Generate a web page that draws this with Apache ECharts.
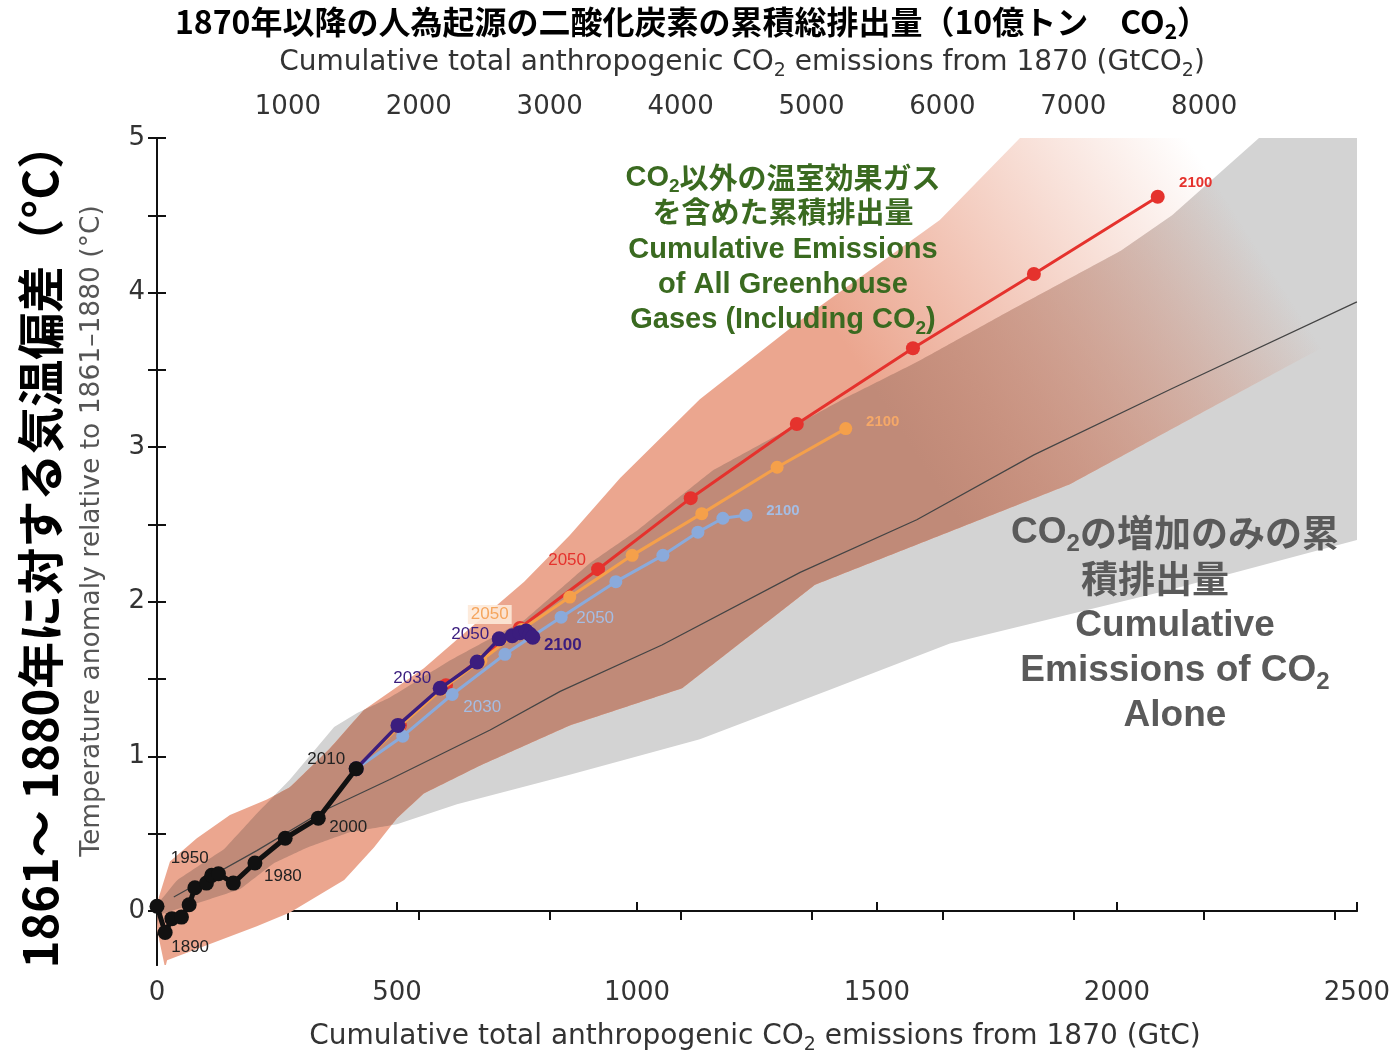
<!DOCTYPE html>
<html>
<head>
<meta charset="utf-8">
<title>累積CO2排出量と気温上昇</title>
<script src="https://cdn.jsdelivr.net/npm/echarts@6/dist/echarts.min.js"></script>
<style>
    html, body { margin: 0; padding: 0; background: #fff; }
    #chart { width: 1393px; height: 1056px; }
</style>
</head>
<body>
<div id="chart"></div>
<script>
; (function () {
    // 観測（1880–2010、10年平均）
    const histYears = [1880, 1890, 1900, 1910, 1920, 1930, 1940, 1950, 1960, 1970, 1980, 1990, 2000, 2010];
    const histX = [0, 17, 31, 51, 67, 79, 103, 114, 128, 159, 204, 267, 336, 415];
    const histY = [0.03, -0.14, -0.05, -0.04, 0.04, 0.15, 0.18, 0.23, 0.24, 0.18, 0.31, 0.47, 0.60, 0.92];

    // RCP シナリオ（2010–2100）
    const rcpYears = [2010, 2020, 2030, 2040, 2050, 2060, 2070, 2080, 2090, 2100];
    const rcp85X = [415, 506, 602, 756, 919, 1112, 1333, 1575, 1827, 2085];
    const rcp85Y = [0.92, 1.20, 1.46, 1.83, 2.21, 2.67, 3.15, 3.64, 4.12, 4.62];
    const rcp60X = [415, 504, 592, 675, 760, 860, 990, 1135, 1292, 1435];
    const rcp60Y = [0.92, 1.19, 1.43, 1.62, 1.82, 2.03, 2.30, 2.57, 2.87, 3.12];
    const rcp45X = [415, 512, 615, 725, 842, 956, 1054, 1127, 1179, 1227];
    const rcp45Y = [0.92, 1.13, 1.40, 1.66, 1.90, 2.13, 2.30, 2.45, 2.54, 2.56];
    const rcp26X = [415, 502, 590, 667, 713, 740, 756, 769, 777, 783];
    const rcp26Y = [0.92, 1.20, 1.44, 1.61, 1.76, 1.78, 1.80, 1.81, 1.79, 1.77];

    // CO2 のみ（1%/年）中央値
    const co2OnlyX = [35, 208, 348, 485, 694, 840, 1052, 1340, 1583, 1827, 2115, 2500];
    const co2OnlyY = [0.09, 0.39, 0.65, 0.85, 1.17, 1.42, 1.72, 2.19, 2.53, 2.95, 3.38, 3.94];

    // CO2 のみの幅（灰色）
    const grayUpperX = [0, 42, 140, 208, 277, 369, 417, 485, 610, 765, 902, 1000, 1158, 1435, 1583, 1775, 2008, 2115, 2296, 2444, 2600];
    const grayUpperY = [0.04, 0.20, 0.40, 0.63, 0.85, 1.19, 1.28, 1.38, 1.62, 1.88, 2.25, 2.46, 2.85, 3.32, 3.55, 3.88, 4.27, 4.50, 5.00, 5.50, 5.90];
    const grayLowerX = [0, 104, 173, 244, 313, 402, 500, 625, 860, 1131, 1402, 1652, 2115, 2500, 2600];
    const grayLowerY = [-0.03, 0.07, 0.14, 0.31, 0.41, 0.51, 0.56, 0.69, 0.88, 1.11, 1.43, 1.73, 2.08, 2.40, 2.47];

    // 全温室効果ガス（RCP）の幅
    const rcpUpperX = [17, 0, 2, 27, 83, 152, 229, 277, 360, 431, 556, 660, 765, 860, 965, 1131, 1340, 1631, 1798, 1965, 2277, 2590];
    const rcpUpperY = [-0.37, -0.12, 0.07, 0.32, 0.47, 0.62, 0.72, 0.80, 1.05, 1.30, 1.57, 1.85, 2.13, 2.43, 2.80, 3.31, 3.82, 4.47, 5.00, 5.50, 6.20, 6.20];
    const rcpLowerX = [2590, 2500, 2371, 1902, 1371, 1094, 860, 673, 556, 500, 452, 390, 277, 208, 21];
    const rcpLowerY = [3.95, 3.76, 3.55, 2.76, 2.11, 1.44, 1.20, 0.94, 0.76, 0.60, 0.41, 0.20, -0.01, -0.10, -0.32];

    // 軸目盛
    const gtcTicks = [0, 500, 1000, 1500, 2000, 2500];
    const gtco2Ticks = [1000, 2000, 3000, 4000, 5000, 6000, 7000, 8000, 9000];
    const gtco2Labels = [1000, 2000, 3000, 4000, 5000, 6000, 7000, 8000];
    const tempTicks = [0, 0.5, 1, 1.5, 2, 2.5, 3, 3.5, 4, 4.5, 5];
    const tempLabels = [0, 1, 2, 3, 4, 5];

    const FONT_JP = '"Noto Sans CJK JP", "Noto Sans", sans-serif';
    const FONT_EN = '"Liberation Sans", Arial, sans-serif';
    const FONT_AX = '"DejaVu Sans", sans-serif';
    const SALMON = [235, 166, 143];
    const DARK = [192, 138, 120];
    const rgba = (c, a) => 'rgba(' + c.join(',') + ',' + a + ')';

    const chart = echarts.init(document.getElementById('chart'));

    function pairs(xs, ys) {
        return xs.map((x, i) => [x, ys[i]]);
    }

    // 指定した年だけにラベルを付ける
    function withLabels(xs, ys, years, labelMap) {
        return pairs(xs, ys).map((d, i) => {
            const cfg = labelMap[years[i]];
            if (!cfg) return d;
            return {
                value: d,
                label: Object.assign({ show: true, position: 'inside', formatter: String(years[i]) }, cfg)
            };
        });
    }

    function edgeAt(xs, ys, x) {
        if (x <= xs[0]) return ys[0];
        for (let i = 1; i < xs.length; i++) {
            if (x <= xs[i]) {
                const t = (x - xs[i - 1]) / (xs[i] - xs[i - 1]);
                return ys[i - 1] + t * (ys[i] - ys[i - 1]);
            }
        }
        return ys[ys.length - 1];
    }

    // 灰色と RCP 幅の重なり部分（濃い茶色に見える部分）
    function overlapOutline() {
        const sux = rcpUpperX.slice(1), suy = rcpUpperY.slice(1);
        const slx = rcpLowerX.slice().reverse(), sly = rcpLowerY.slice().reverse();
        const up = [], lo = [];
        for (let x = 0; x <= 2590; x += 5) {
            const u = Math.min(edgeAt(sux, suy, x), edgeAt(grayUpperX, grayUpperY, x));
            const l = Math.max(edgeAt(slx, sly, x), edgeAt(grayLowerX, grayLowerY, x));
            if (u > l) {
                up.push([x, u]);
                lo.push([x, l]);
            }
        }
        return up.concat(lo.reverse());
    }

    function fade(api, color) {
        const p0 = api.coord([0, 0]), p1 = api.coord([2500, 5]);
        return new echarts.graphic.LinearGradient(p0[0], p0[1], p1[0], p1[1], [
            { offset: 0, color: rgba(color, 1) },
            { offset: 0.62, color: rgba(color, 1) },
            { offset: 0.9, color: rgba(color, 0) }
        ], true);
    }

    function polygon(outlineFn, styleFn) {
        return function (params, api) {
            const pts = outlineFn().map(p => api.coord(p));
            return { type: 'polygon', shape: { points: pts }, style: styleFn(api) };
        };
    }

    function bandSeries(name, outlineFn, styleFn, z) {
        return {
            name: name,
            type: 'custom', coordinateSystem: 'cartesian2d', clip: true, silent: true, z: z,
            data: [[0, 0]],
            renderItem: polygon(outlineFn, styleFn)
        };
    }

    function scenario(name, xs, ys, color, labelColor, size, width, labelMap, z) {
        return {
            name: name,
            type: 'line',
            data: withLabels(xs, ys, rcpYears, labelMap),
            symbol: 'circle',
            symbolSize: size,
            itemStyle: { color: color },
            lineStyle: { color: color, width: width },
            label: { show: false, color: labelColor, fontSize: 17, fontFamily: FONT_EN },
            z: z,
            emphasis: { disabled: true }
        };
    }

    const axisLine = { show: true, lineStyle: { color: '#111', width: 2 } };
    const tickStyle = { color: '#111', width: 2 };
    const tickLabel = { color: '#333', fontSize: 26, fontFamily: FONT_AX, formatter: v => String(v) };

    const sub = (size, color, weight, family) => ({
        fontSize: size, fill: color, fontWeight: weight, fontFamily: family,
        lineHeight: size, verticalAlign: 'bottom'
    });
    const main = (size, color, weight, family) => ({
        fontSize: size, fill: color, fontWeight: weight, fontFamily: family,
        lineHeight: Math.round(size * 1.25), verticalAlign: 'middle'
    });

    function textEl(x, y, text, rich, rotation) {
        return {
            type: 'text', x: x, y: y, z: 100, rotation: rotation || 0, silent: true,
            style: { text: text, align: 'center', verticalAlign: 'middle', rich: rich }
        };
    }

    const axisRich = { n: main(28, '#333', 'normal', FONT_AX), s: sub(19, '#333', 'normal', FONT_AX) };
    const green = '#3A6A20';
    const greenRich = { n: main(29, green, 'bold', FONT_JP), e: main(29, green, 'bold', FONT_EN), s: sub(19, green, 'bold', FONT_EN) };
    const grey = '#5a5a5a';
    const greyRich = { n: main(37, grey, 'bold', FONT_JP), e: main(37, grey, 'bold', FONT_EN), s: sub(24, grey, 'bold', FONT_EN) };

    const option = {
        backgroundColor: '#fff',
        animation: false,
        grid: { left: 157, right: 36, top: 138, bottom: 91 },
        xAxis: [
            {
                type: 'value', position: 'bottom', min: 0, max: 2500,
                axisLine: axisLine,
                axisTick: { inside: true, length: 9, lineStyle: tickStyle, customValues: gtcTicks },
                axisLabel: Object.assign({ margin: 15, customValues: gtcTicks }, tickLabel),
                splitLine: { show: false }
            },
            {
                type: 'value', position: 'top', min: 0, max: 2500 * 44 / 12,
                axisLine: axisLine,
                axisTick: { inside: true, length: 9, lineStyle: tickStyle, customValues: gtco2Ticks },
                axisLabel: Object.assign({ margin: 18, customValues: gtco2Labels }, tickLabel),
                splitLine: { show: false }
            }
        ],
        yAxis: [
            {
                type: 'value', position: 'left', min: -0.35, max: 5,
                axisLine: axisLine,
                axisTick: { inside: true, length: 9, lineStyle: tickStyle, customValues: tempTicks },
                axisLabel: Object.assign({ margin: 12, customValues: tempLabels }, tickLabel),
                splitLine: { show: false }
            },
            {
                type: 'value', position: 'right', min: -0.35, max: 5,
                axisLine: axisLine,
                axisTick: { inside: true, length: 9, lineStyle: tickStyle, customValues: tempTicks },
                axisLabel: { show: false },
                splitLine: { show: false }
            }
        ],
        series: [
            bandSeries('CO2 only range',
                () => pairs(grayUpperX, grayUpperY).concat(pairs(grayLowerX, grayLowerY).reverse()),
                () => ({ fill: '#d3d3d3' }), 1),
            bandSeries('RCP range',
                () => pairs(rcpUpperX, rcpUpperY).concat(pairs(rcpLowerX, rcpLowerY)),
                api => ({ fill: fade(api, SALMON) }), 2),
            bandSeries('Overlap', overlapOutline,
                api => ({ fill: fade(api, DARK) }), 3),
            {
                name: 'CO2 only',
                type: 'line', data: pairs(co2OnlyX, co2OnlyY), symbol: 'none', z: 4,
                lineStyle: { color: '#444', width: 1.2 }, emphasis: { disabled: true }
            },
            scenario('RCP8.5', rcp85X, rcp85Y, '#e5322d', '#e5322d', 14, 3, {
                2050: { offset: [-31, -9] },
                2100: { offset: [38, -14], fontSize: 15, fontWeight: 'bold' }
            }, 5),
            scenario('RCP6.0', rcp60X, rcp60Y, '#f5a04a', '#f5a868', 13, 3, {
                2050: { offset: [-32, -15], backgroundColor: 'rgba(253,233,216,0.9)', padding: [1, 3], color: '#f5a55e' },
                2100: { offset: [37, -7], fontSize: 15, fontWeight: 'bold' }
            }, 6),
            scenario('RCP4.5', rcp45X, rcp45Y, '#8aaadb', '#a4bde4', 13, 3, {
                2030: { offset: [30, 13] },
                2050: { offset: [34, 1] },
                2100: { offset: [37, -4], fontSize: 15, fontWeight: 'bold' }
            }, 7),
            scenario('RCP2.6', rcp26X, rcp26Y, '#3b1d7e', '#3b1d7e', 15, 3.5, {
                2030: { offset: [-28, -10] },
                2050: { offset: [-29, -5] },
                2100: { offset: [30, 8], fontWeight: 'bold' }
            }, 8),
            {
                name: 'Historical',
                type: 'line',
                data: withLabels(histX, histY, histYears, {
                    1890: { offset: [25, 15] },
                    1950: { offset: [-22, -17] },
                    1980: { offset: [28, 13] },
                    2000: { offset: [30, 9] },
                    2010: { offset: [-30, -9] }
                }),
                symbol: 'circle', symbolSize: 15, z: 9,
                itemStyle: { color: '#111' },
                lineStyle: { color: '#111', width: 5 },
                label: { show: false, color: '#222', fontSize: 17, fontFamily: FONT_EN },
                emphasis: { disabled: true }
            }
        ],
        graphic: [
            textEl(692, 22, '{n|1870年以降の人為起源の二酸化炭素の累積総排出量（10億トン　CO}{s|2}{n|）}',
                { n: main(32, '#000', 'bold', FONT_JP), s: sub(21, '#000', 'bold', FONT_JP) }),
            textEl(742, 63, '{n|Cumulative total anthropogenic CO}{s|2}{n| emissions from 1870 (GtCO}{s|2}{n|)}', axisRich),
            textEl(755, 1037, '{n|Cumulative total anthropogenic CO}{s|2}{n| emissions from 1870 (GtC)}', axisRich),
            textEl(92, 531, '{n|Temperature anomaly relative to 1861–1880 (°C)}',
                { n: main(26.5, '#555', 'normal', FONT_AX) }, Math.PI / 2),
            textEl(40, 545, '{n|1861～ 1880年に対する気温偏差（°C）}',
                { n: main(47, '#000', 'bold', FONT_JP) }, Math.PI / 2),

            textEl(783, 178, '{e|CO}{s|2}{n|以外の温室効果ガス}', greenRich),
            textEl(783, 212, '{n|を含めた累積排出量}', greenRich),
            textEl(783, 250, '{e|Cumulative Emissions}', greenRich),
            textEl(783, 285, '{e|of All Greenhouse}', greenRich),
            textEl(783, 320, '{e|Gases (Including CO}{s|2}{e|)}', greenRich),

            textEl(1175, 533, '{e|CO}{s|2}{n|の増加のみの累}', greyRich),
            textEl(1155, 579, '{n|積排出量}', greyRich),
            textEl(1175, 626, '{e|Cumulative}', greyRich),
            textEl(1175, 671, '{e|Emissions of CO}{s|2}', greyRich),
            textEl(1175, 716, '{e|Alone}', greyRich)
        ]
    };

    chart.setOption(option);
})();
</script>
</body>
</html>
